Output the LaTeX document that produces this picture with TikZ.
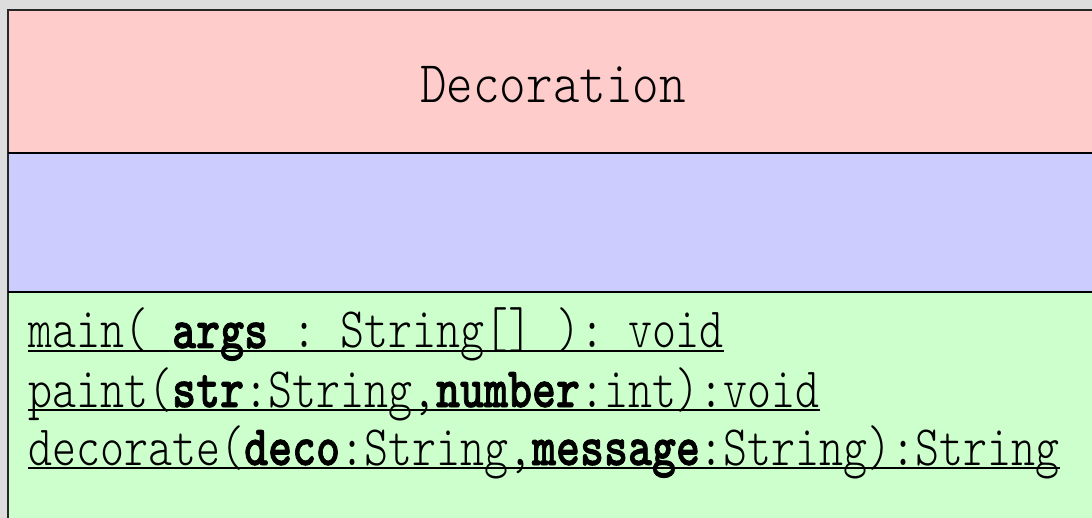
\documentclass[tikz,border=0pt]{standalone}
\usepackage{fontspec}
\setmonofont{lmmonolt10-regular.otf}[BoldFont=lmmonolt10-bold.otf,BoldFeatures={FakeBold=1.5}]
\definecolor{bgc}{HTML}{DDDDDD}
\definecolor{pinkc}{HTML}{FFCCCC}
\definecolor{bluec}{HTML}{CCCCFF}
\definecolor{greenc}{HTML}{CCFFCC}
\begin{document}
\begin{tikzpicture}[x=1pt,y=-1pt,
  titletext/.style={inner sep=0pt, anchor=base, font=\ttfamily\fontsize{50.5}{50.5}\selectfont},
  methodtext/.style={inner sep=0pt, anchor=base west, font=\ttfamily\fontsize{45.7}{45.7}\selectfont},
  uline/.style={line width=1.3pt},
  sepline/.style={line width=2pt}]
\fill[bgc] (0,0) rectangle (1092,518);
\useasboundingbox (0,0) rectangle (1092,518);
\fill[pinkc] (8,10) rectangle (1092,153);
\fill[bluec] (8,153) rectangle (1092,292);
\fill[greenc] (8,292) rectangle (1092,518);
\draw[line width=1.3pt, draw=black!85] (8,518) -- (8,10) -- (1092,10);
\draw[sepline] (8,153) -- (1092,153);
\draw[sepline] (8,292) -- (1092,292);
\node[titletext] (title) at (553,103) {\scalebox{1}[1.17]{Decoration}};
\node[methodtext] (m1) at (28,348) {\scalebox{1}[1.25]{main( \textbf{args} : String[] ): void}};
\node[methodtext] (m2) at (28,407) {\scalebox{1}[1.25]{paint(\textbf{str}:String,\textbf{number}:int):void}};
\node[methodtext] (m3) at (28,465) {\scalebox{1}[1.25]{decorate(\textbf{deco}:String,\textbf{message}:String):String}};
\foreach \m in {m1,m2,m3}
  \draw[uline] ([yshift=-3pt]\m.base west) -- ([yshift=-3pt]\m.base east);
\end{tikzpicture}
\end{document}
